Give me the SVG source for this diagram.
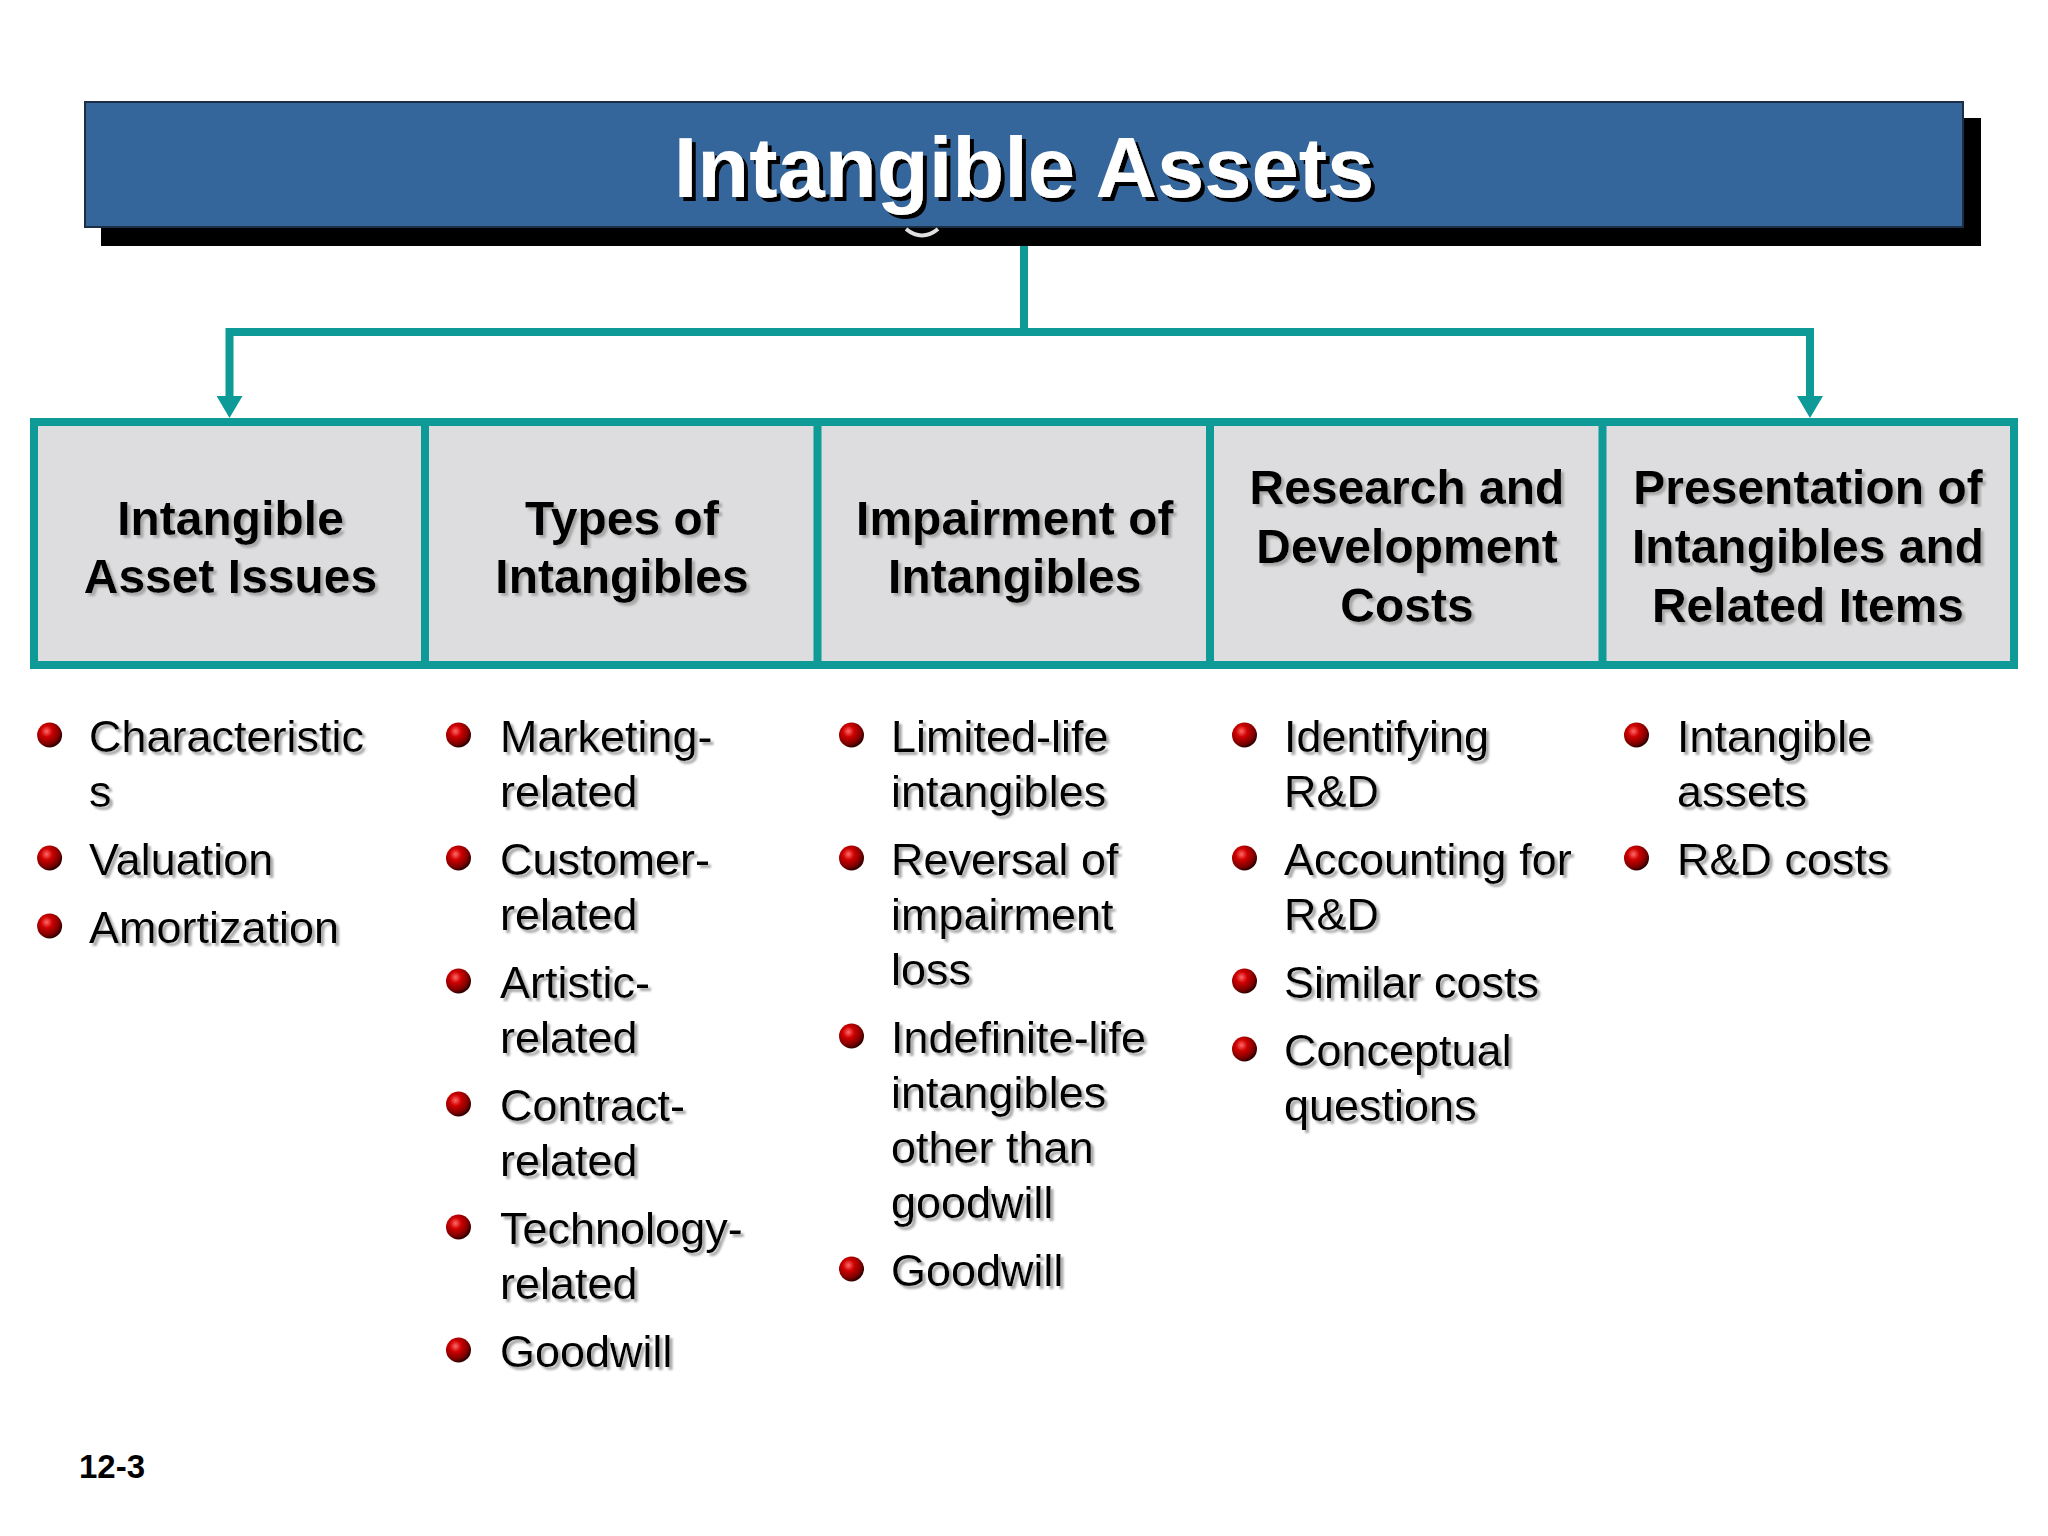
<svg xmlns="http://www.w3.org/2000/svg" width="2048" height="1536" viewBox="0 0 2048 1536">
<defs>
<style>
.box{fill:#DDDDDF;stroke:#0E9A97;stroke-width:8}
.hd{font-family:"Liberation Sans",Arial,sans-serif;font-weight:bold;font-size:48px;fill:#000;text-anchor:middle;filter:url(#sh)}
.it{font-family:"Liberation Sans",Arial,sans-serif;font-size:45px;fill:#000;filter:url(#sh)}
.conn{fill:none;stroke:#0E9A97;stroke-width:8;stroke-linejoin:miter}
.bul{fill:url(#rg)}
</style>
<filter id="sh" x="-5%" y="-20%" width="115%" height="150%">
<feDropShadow dx="3" dy="3" stdDeviation="0.8" flood-color="#A8A8A8" flood-opacity="1"/>
</filter>
<filter id="tsh" x="-5%" y="-20%" width="115%" height="150%">
<feDropShadow dx="4" dy="4" stdDeviation="0.5" flood-color="#000" flood-opacity="1"/>
</filter>
<radialGradient id="rg" cx="38%" cy="35%" r="65%">
<stop offset="0" stop-color="#FF6A6A"/>
<stop offset="0.35" stop-color="#D00000"/>
<stop offset="0.8" stop-color="#7A0000"/>
<stop offset="1" stop-color="#300000"/>
</radialGradient>
<marker id="ah" viewBox="0 0 22 26" refX="0" refY="13" markerWidth="22" markerHeight="26" markerUnits="userSpaceOnUse" orient="auto-start-reverse">
<path d="M0,0 L22,13 L0,26 z" fill="#0E9A97"/>
</marker>
</defs>
<rect x="0" y="0" width="2048" height="1536" fill="#FFFFFF"/>

<g id="title">
<rect x="101" y="118" width="1880" height="128" fill="#000"/>
<rect x="85" y="102" width="1878" height="125" fill="#35669B" stroke="#1C2E45" stroke-width="2"/>
<path d="M906 229 Q922 242 938 229" fill="none" stroke="#E0E0E0" stroke-width="4"/>
<text x="1024" y="197" text-anchor="middle" font-family="'Liberation Sans',Arial,sans-serif" font-weight="bold" font-size="85" fill="#FFFFFF" filter="url(#tsh)">Intangible Assets</text>
</g>

<g id="connectors">
<path class="conn" d="M1024 246 V332"/>
<path class="conn" d="M229.5 396 V332 H1810 V396" marker-start="url(#ah)" marker-end="url(#ah)"/>
</g>

<g id="box1">
<rect class="box" x="34" y="422" width="393" height="243"/>
<text class="hd" x="230.5" y="535">Intangible</text>
<text class="hd" x="230.5" y="593">Asset Issues</text>
</g>
<g id="box2">
<rect class="box" x="425" y="422" width="394.5" height="243"/>
<text class="hd" x="622" y="535">Types of</text>
<text class="hd" x="622" y="593">Intangibles</text>
</g>
<g id="box3">
<rect class="box" x="817.5" y="422" width="394.5" height="243"/>
<text class="hd" x="1014.75" y="535">Impairment of</text>
<text class="hd" x="1014.75" y="593">Intangibles</text>
</g>
<g id="box4">
<rect class="box" x="1210" y="422" width="394.5" height="243"/>
<text class="hd" x="1407" y="504">Research and</text>
<text class="hd" x="1407" y="563">Development</text>
<text class="hd" x="1407" y="622">Costs</text>
</g>
<g id="box5">
<rect class="box" x="1602.5" y="422" width="411.5" height="243"/>
<text class="hd" x="1808" y="504">Presentation of</text>
<text class="hd" x="1808" y="563">Intangibles and</text>
<text class="hd" x="1808" y="622">Related Items</text>
</g>

<g id="list1">
<circle class="bul" cx="49.6" cy="735" r="12.5"/>
<text class="it" x="89" y="752">Characteristic</text>
<text class="it" x="89" y="807">s</text>
<circle class="bul" cx="49.6" cy="858" r="12.5"/>
<text class="it" x="89" y="875">Valuation</text>
<circle class="bul" cx="49.6" cy="926" r="12.5"/>
<text class="it" x="89" y="943">Amortization</text>
</g>

<g id="list2">
<circle class="bul" cx="458.5" cy="735" r="12.5"/>
<text class="it" x="500" y="752">Marketing-</text>
<text class="it" x="500" y="807">related</text>
<circle class="bul" cx="458.5" cy="858" r="12.5"/>
<text class="it" x="500" y="875">Customer-</text>
<text class="it" x="500" y="930">related</text>
<circle class="bul" cx="458.5" cy="981" r="12.5"/>
<text class="it" x="500" y="998">Artistic-</text>
<text class="it" x="500" y="1053">related</text>
<circle class="bul" cx="458.5" cy="1104" r="12.5"/>
<text class="it" x="500" y="1121">Contract-</text>
<text class="it" x="500" y="1176">related</text>
<circle class="bul" cx="458.5" cy="1227" r="12.5"/>
<text class="it" x="500" y="1244">Technology-</text>
<text class="it" x="500" y="1299">related</text>
<circle class="bul" cx="458.5" cy="1350" r="12.5"/>
<text class="it" x="500" y="1367">Goodwill</text>
</g>

<g id="list3">
<circle class="bul" cx="851.5" cy="735" r="12.5"/>
<text class="it" x="891" y="752">Limited-life</text>
<text class="it" x="891" y="807">intangibles</text>
<circle class="bul" cx="851.5" cy="858" r="12.5"/>
<text class="it" x="891" y="875">Reversal of</text>
<text class="it" x="891" y="930">impairment</text>
<text class="it" x="891" y="985">loss</text>
<circle class="bul" cx="851.5" cy="1036" r="12.5"/>
<text class="it" x="891" y="1053">Indefinite-life</text>
<text class="it" x="891" y="1108">intangibles</text>
<text class="it" x="891" y="1163">other than</text>
<text class="it" x="891" y="1218">goodwill</text>
<circle class="bul" cx="851.5" cy="1269" r="12.5"/>
<text class="it" x="891" y="1286">Goodwill</text>
</g>

<g id="list4">
<circle class="bul" cx="1244.5" cy="735" r="12.5"/>
<text class="it" x="1284" y="752">Identifying</text>
<text class="it" x="1284" y="807">R&amp;D</text>
<circle class="bul" cx="1244.5" cy="858" r="12.5"/>
<text class="it" x="1284" y="875">Accounting for</text>
<text class="it" x="1284" y="930">R&amp;D</text>
<circle class="bul" cx="1244.5" cy="981" r="12.5"/>
<text class="it" x="1284" y="998">Similar costs</text>
<circle class="bul" cx="1244.5" cy="1049" r="12.5"/>
<text class="it" x="1284" y="1066">Conceptual</text>
<text class="it" x="1284" y="1121">questions</text>
</g>

<g id="list5">
<circle class="bul" cx="1636.5" cy="735" r="12.5"/>
<text class="it" x="1677" y="752">Intangible</text>
<text class="it" x="1677" y="807">assets</text>
<circle class="bul" cx="1636.5" cy="858" r="12.5"/>
<text class="it" x="1677" y="875">R&amp;D costs</text>
</g>

<g id="footer">
<text x="79" y="1478" font-family="'Liberation Sans',Arial,sans-serif" font-weight="bold" font-size="33" fill="#000">12-3</text>
</g>
</svg>
